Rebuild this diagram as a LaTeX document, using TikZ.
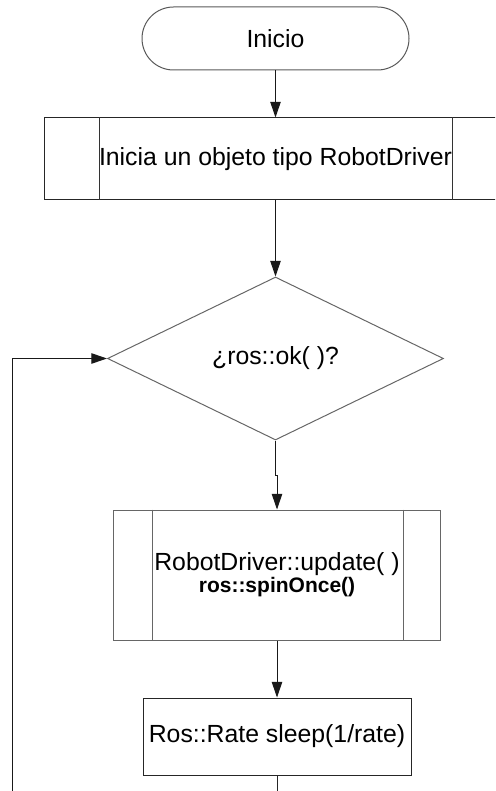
\documentclass[tikz,border=0pt]{standalone}
\usepackage{fontspec}
\setmainfont{Liberation Sans}
\usepackage{tikz}
\usetikzlibrary{shapes.geometric, arrows.meta, positioning}

\begin{document}
\begin{tikzpicture}[x=0.5pt, y=-0.5pt,
  texto/.style={font=\fontsize{12.4pt}{14pt}\selectfont, text=black, align=center, inner sep=0pt},
  terminal/.style={texto, draw=black!65, line width=0.5pt, rounded corners=15.75pt, minimum width=133.5pt, minimum height=31.5pt},
  caja/.style={texto, draw=black!85, line width=0.5pt},
  decision/.style={texto, diamond, draw=black!60, line width=0.5pt, minimum width=168pt, minimum height=81.5pt},
  barra/.style={draw=black!80, line width=0.5pt},
  flecha/.style={-{Triangle[width=5.2pt,length=7.8pt]}, line width=0.5pt, black!90}]

  \useasboundingbox (0,0) rectangle (495,791);
  \clip (0,0) rectangle (495,791);

  % Bloques
  \node[terminal] (inicio) at (275.5,38.5) {Inicio};
  \node[caja, minimum width=231pt, minimum height=41pt] (crea) at (275.5,159) {Inicia un objeto tipo RobotDriver};
  \node[decision] (cond) at (275.5,358.5) {¿ros::ok( )?};
  \node[caja, draw=black!60, minimum width=163.5pt, minimum height=65pt] (update) at (277,575)
    {RobotDriver::update( )\\[-3pt]{\fontsize{10.5pt}{12pt}\selectfont\bfseries ros::spinOnce()}};
  \node[caja, minimum width=134pt, minimum height=38.5pt] (sleep) at (277,736.5) {Ros::Rate sleep(1/rate)};

  % Barras de subproceso
  \draw[barra] ([xshift=27.5pt]crea.north west) -- ([xshift=27.5pt]crea.south west);
  \draw[barra] ([xshift=-27.5pt]crea.north east) -- ([xshift=-27.5pt]crea.south east);
  \draw[barra, black!60] ([xshift=19.5pt]update.north west) -- ([xshift=19.5pt]update.south west);
  \draw[barra, black!60] ([xshift=-19pt]update.north east) -- ([xshift=-19pt]update.south east);

  % Extremos libres
  \coordinate (lazo) at (12,791);
  \coordinate (fin) at (277,791);

  % Conectores
  \draw[flecha] (inicio) -- (crea);
  \draw[flecha] (crea) -- (cond);
  \draw[flecha] (cond.south) -- ++(0,35) -| (update.north);
  \draw[flecha] (update) -- (sleep);
  \draw[line width=0.5pt, black!85] (sleep.south) -- (fin);
  \draw[flecha] (lazo) |- (cond.west);

\end{tikzpicture}
\end{document}
